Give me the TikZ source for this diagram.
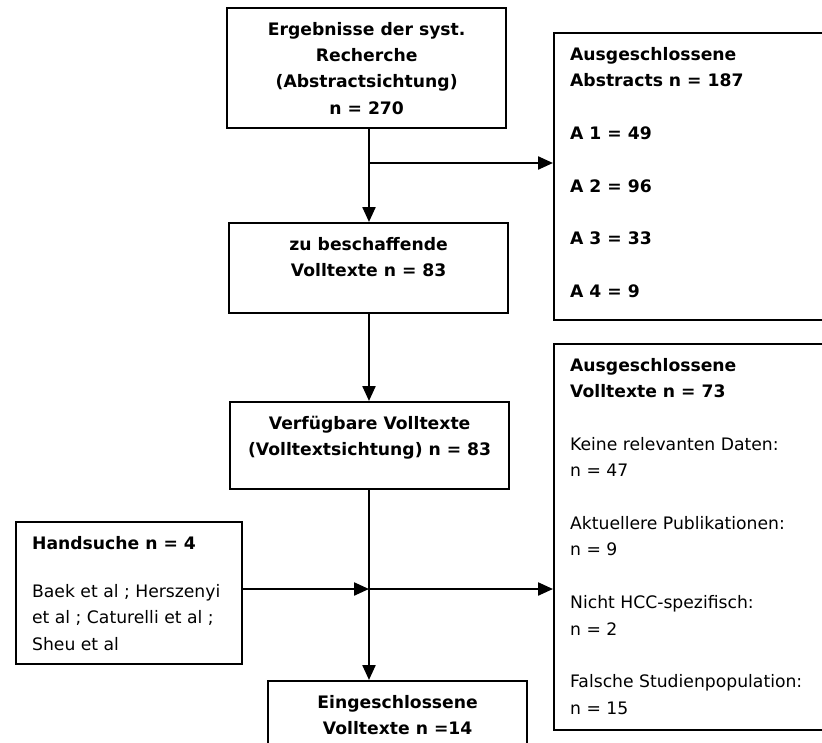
\documentclass[tikz,border=0pt]{standalone}
\usepackage{fontspec}
\setmainfont{DejaVu Sans}
\usetikzlibrary{arrows.meta}
\tikzset{
  box/.style={draw, line width=2.3pt, inner sep=0pt, anchor=north west,
    font=\fontsize{17.2}{26.4}\selectfont},
  arr/.style={line width=2.3pt, -{Triangle[length=15pt,width=13pt]}},
}
\newcommand\boxC[3]{\parbox[c][#2][t]{#1}{\centering\rule{0pt}{27pt}#3}}
\newcommand\boxL[3]{\parbox[c][#2][t]{#1}{\raggedright\leftskip=16pt\rule{0pt}{27pt}#3}}
\begin{document}
\begin{tikzpicture}[x=1pt,y=-1pt]
\useasboundingbox (0,0) rectangle (822,742);

\node[box] (b1) at (226,7) {\boxC{279pt}{120pt}{\bfseries Ergebnisse der syst.\\Recherche\\(Abstractsichtung)\\n = 270}};
\node[box] (b2) at (228,222) {\boxC{279pt}{90pt}{\bfseries zu beschaffende\\Volltexte n = 83}};
\node[box] (b3) at (229,401) {\boxC{279pt}{87pt}{\bfseries Verfügbare Volltexte\\(Volltextsichtung) n = 83}};
\node[box] (b4) at (553,32) {\boxL{280pt}{287pt}{\bfseries Ausgeschlossene\\Abstracts n = 187\\[26.4pt]A 1 = 49\\[26.4pt]A 2 = 96\\[26.4pt]A 3 = 33\\[26.4pt]A 4 = 9}};
\node[box] (b5) at (553,343) {\boxL{280pt}{386pt}{{\bfseries Ausgeschlossene\\Volltexte n = 73}\\[26.4pt]Keine relevanten Daten:\\n = 47\\[26.4pt]Aktuellere Publikationen:\\n = 9\\[26.4pt]Nicht HCC-spezifisch:\\n = 2\\[26.4pt]Falsche Studienpopulation:\\n = 15}};
\node[box] (b6) at (15,521) {\boxL{226pt}{142pt}{{\bfseries Handsuche n = 4}\\[22pt]Baek et al ; Herszenyi\\et al ; Caturelli et al ;\\Sheu et al}};
\node[box] (b7) at (267,680) {\boxC{259pt}{80pt}{\bfseries Eingeschlossene\\Volltexte n =14}};

\coordinate (vx) at (369,0);
\coordinate (j1) at (369,163);
\coordinate (j2) at (369,589);

\draw[arr] (b1.south -| vx) -- (b2.north -| vx);
\draw[arr] (j1) -- (j1 -| b4.west);
\draw[arr] (b2.south -| vx) -- (b3.north -| vx);
\draw[arr] (b3.south -| vx) -- (b7.north -| vx);
\draw[arr] (b6.east |- j2) -- (j2);
\draw[arr] (j2) -- (j2 -| b5.west);
\end{tikzpicture}
\end{document}
